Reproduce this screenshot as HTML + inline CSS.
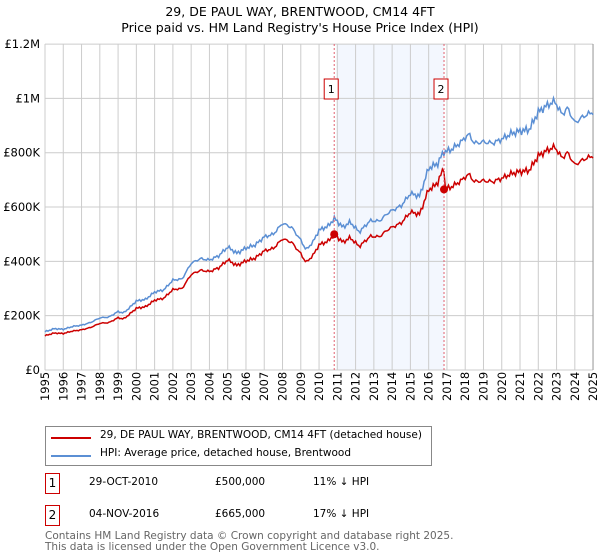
<!DOCTYPE html>
<html><head><meta charset="utf-8"><style>
body{margin:0;background:#fff;font-family:"DejaVu Sans","Liberation Sans",sans-serif;}
#c{position:relative;width:600px;height:560px;overflow:hidden;}
.t{position:absolute;font-size:12px;color:#000;white-space:nowrap;}
.box{position:absolute;border:1px solid #c00;width:13px;height:19px;font-size:12px;text-align:center;line-height:19px;background:#fff;}
</style></head><body><div id="c">
<svg id="s" width="600" height="560" style="position:absolute;left:0;top:0" font-family="DejaVu Sans, Liberation Sans, sans-serif"></svg>
<div class="t" style="left:0;width:600px;text-align:center;top:4px;font-size:12.5px;line-height:16px">29, DE PAUL WAY, BRENTWOOD, CM14 4FT<br>Price paid vs. HM Land Registry's House Price Index (HPI)</div>
<div style="position:absolute;left:45px;top:426px;width:385px;height:38px;border:1px solid #888;"></div>
<div style="position:absolute;left:51px;top:437px;width:40px;height:2px;background:#c00"></div>
<div style="position:absolute;left:51px;top:455px;width:40px;height:2px;background:#5b8fd4"></div>
<div class="t" style="left:100px;top:429px;font-size:10.5px">29, DE PAUL WAY, BRENTWOOD, CM14 4FT (detached house)</div>
<div class="t" style="left:100px;top:447px;font-size:10.5px">HPI: Average price, detached house, Brentwood</div>
<div class="box" style="left:45px;top:473px">1</div>
<div class="t" style="left:89px;top:476px;font-size:10.5px">29-OCT-2010</div>
<div class="t" style="left:215px;top:476px;font-size:10.5px">£500,000</div>
<div class="t" style="left:313px;top:476px;font-size:10.5px">11% ↓ HPI</div>
<div class="box" style="left:45px;top:505px">2</div>
<div class="t" style="left:89px;top:508px;font-size:10.5px">04-NOV-2016</div>
<div class="t" style="left:215px;top:508px;font-size:10.5px">£665,000</div>
<div class="t" style="left:313px;top:508px;font-size:10.5px">17% ↓ HPI</div>
<div class="t" style="left:45px;top:531px;font-size:10.5px;color:#666;line-height:11px">Contains HM Land Registry data © Crown copyright and database right 2025.<br>This data is licensed under the Open Government Licence v3.0.</div>
</div>
<script>
var s=document.getElementById('s'),h='';
function X(y){return 45+(y-1995)*18.27;}
function Y(v){return 370-v*0.27158;}
h+='<rect x="'+X(2010.95)+'" y="44" width="'+(X(2016.84)-X(2010.95))+'" height="326" fill="#eef3fd" opacity="0.7"/>';
for(var y=1995;y<=2025;y++){h+='<line x1="'+X(y)+'" x2="'+X(y)+'" y1="44" y2="370" stroke="#ccc" stroke-width="1"/>';
var xs=(X(y)+4).toFixed(1);var ys=[401,393.7,386.4,379.1].join(' ');
h+='<text x="'+[xs,xs,xs,xs].join(' ')+'" y="'+ys+'" rotate="-90" font-size="11.5">'+y+'</text>';}
var lab=['£0','£200K','£400K','£600K','£800K','£1M','£1.2M'];
for(var i=0;i<=6;i++){var yy=Y(i*200);h+='<line x1="45" x2="593" y1="'+yy+'" y2="'+yy+'" stroke="#ccc"/>';
h+='<text x="40" y="'+(yy+4)+'" font-size="11.5" text-anchor="end">'+lab[i]+'</text>';}
h+='<line x1="593" x2="593" y1="44" y2="370" stroke="#999"/>';
var k=[[1995,141],[1995.5,152],[1996,150],[1996.5,160],[1997,165],[1997.5,175],[1998,192],[1998.5,195],[1999,215],[1999.3,210],[1999.6,228],[2000,254],[2000.5,260],[2001,287],[2001.5,295],[2002,331],[2002.5,335],[2003,393],[2003.5,410],[2004,405],[2004.5,420],[2005,453],[2005.5,430],[2006,449],[2006.5,460],[2007,490],[2007.5,500],[2008,540],[2008.5,525],[2009,478],[2009.3,442],[2009.7,475],[2010,515],[2010.5,530],[2010.85,559],[2011.3,525],[2011.7,545],[2012.2,508],[2012.8,550],[2013.3,548],[2013.8,580],[2014.5,605],[2015,650],[2015.5,640],[2016,743],[2016.5,760],[2016.8,802],[2017.2,810],[2017.7,835],[2018.2,869],[2018.5,835],[2019,840],[2019.5,835],[2020,850],[2020.5,870],[2021,880],[2021.5,885],[2022,950],[2022.5,975],[2022.9,990],[2023.3,940],[2023.6,965],[2024,910],[2024.5,935],[2025,950]];
function hp(t){for(var i=0;i<k.length-1;i++){if(t<=k[i+1][0]){var f=(t-k[i][0])/(k[i+1][0]-k[i][0]);return k[i][1]+f*(k[i+1][1]-k[i][1]);}}return k[k.length-1][1];}
var b='',r='';
for(var t=1995;t<=2025.001;t+=1/12){var n=Math.sin(t*37.1)*4+Math.sin(t*91.7)*3;var v=hp(t)+n*(hp(t)/400);
var rr;if(t<2016.2)rr=v*0.895;else if(t<2016.84){rr=v*(0.895+0.03*(t-2016.2)/0.64);}else rr=v*0.83;
b+=X(t).toFixed(1)+','+Y(v).toFixed(1)+' ';r+=X(t).toFixed(1)+','+Y(rr).toFixed(1)+' ';}
h+='<polyline points="'+b+'" fill="none" stroke="#5b8fd4" stroke-width="1.5"/>';
h+='<polyline points="'+r+'" fill="none" stroke="#cc0000" stroke-width="1.5"/>';
[[2010.83,500],[2016.84,665]].forEach(function(p,i){h+='<line x1="'+X(p[0])+'" x2="'+X(p[0])+'" y1="44" y2="370" stroke="#e06070" stroke-dasharray="2,2"/>';
h+='<circle cx="'+X(p[0])+'" cy="'+Y(p[1])+'" r="4" fill="#cc0000"/>';
h+='<rect x="'+(X(p[0])-10)+'" y="79" width="14" height="20" fill="#fff" stroke="#c00"/><text x="'+(X(p[0])-3)+'" y="93" font-size="11" text-anchor="middle">'+(i+1)+'</text>';});
s.innerHTML=h;
</script></body></html>
